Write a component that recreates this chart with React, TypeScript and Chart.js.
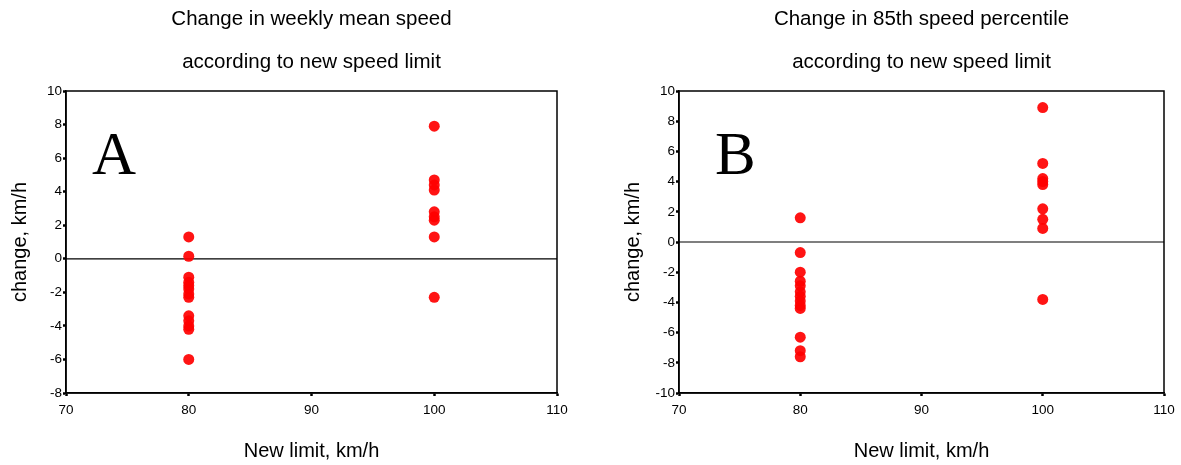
import React, { useEffect, useRef } from 'react';
import { Chart, registerables } from 'chart.js';

Chart.register(...registerables);

// ---- data ----
const speedLimits = [80, 100];
const xTickMin = 70;
const xTickMax = 110;

// Panel A: change in weekly mean speed (km/h)
const meanChangeAt80 = [1.3, 0.15, -1.1, -1.4, -1.6, -1.8, -2.1, -2.3, -3.4, -3.7, -4.0, -4.2, -6.0];
const meanChangeAt100 = [7.9, 4.7, 4.4, 4.1, 2.8, 2.5, 2.3, 1.3, -2.3];

// Panel B: change in 85th speed percentile (km/h)
const p85ChangeAt80 = [1.6, -0.7, -2.0, -2.6, -2.9, -3.3, -3.6, -3.9, -4.2, -4.4, -6.3, -7.2, -7.6];
const p85ChangeAt100 = [8.9, 5.2, 4.2, 4.0, 3.8, 2.2, 1.5, 0.9, -3.8];

const titleA = ['Change in weekly mean speed', 'according to new speed limit'];
const titleB = ['Change in 85th speed percentile', 'according to new speed limit'];
const xAxisTitle = 'New limit, km/h';
const yAxisTitle = 'change, km/h';

const SANS = '"Liberation Sans", Arial, Helvetica, sans-serif';
const SERIF = '"Liberation Serif", "Times New Roman", serif';

type PanelProps = {
  left: number;
  width: number;
  rightPad: number;
  title: string[];
  letter: string;
  letterX: number;
  low: number[];
  high: number[];
  yMin: number;
  yMax: number;
};

function Panel(props: PanelProps) {
  const ref = useRef<HTMLCanvasElement | null>(null);
  useEffect(() => {
    const canvas = ref.current;
    if (!canvas) return;
    const decor = {
      id: 'decor',
      beforeDatasetsDraw(chart: any) {
        const { ctx, chartArea } = chart;
        const y0 = chart.scales.y.getPixelForValue(0);
        ctx.save();
        ctx.strokeStyle = '#000';
        ctx.lineWidth = 1.5;
        ctx.strokeRect(chartArea.left, chartArea.top, chartArea.right - chartArea.left, chartArea.bottom - chartArea.top);
        ctx.lineWidth = 1.2;
        ctx.beginPath();
        ctx.moveTo(chartArea.left, y0);
        ctx.lineTo(chartArea.right, y0);
        ctx.stroke();
        ctx.restore();
      },
      afterDraw(chart: any) {
        const { ctx, chartArea } = chart;
        const cx = (chartArea.left + chartArea.right) / 2;
        ctx.save();
        ctx.fillStyle = '#000';
        ctx.textAlign = 'center';
        ctx.textBaseline = 'middle';
        ctx.font = `20.5px ${SANS}`;
        ctx.fillText(props.title[0], cx, 19);
        ctx.fillText(props.title[1], cx, 62);
        ctx.textAlign = 'left';
        ctx.textBaseline = 'alphabetic';
        ctx.font = `61px ${SERIF}`;
        ctx.fillText(props.letter, props.letterX, 174);
        ctx.restore();
      },
    };
    const pointStyle = {
      backgroundColor: 'rgba(255,0,0,0.92)',
      borderColor: 'rgba(255,0,0,0.92)',
      borderWidth: 0,
      pointRadius: 5.5,
      pointHoverRadius: 5.5,
    };
    const chart = new Chart(canvas, {
      type: 'scatter',
      data: {
        datasets: [
          { data: props.low.map((v) => ({ x: speedLimits[0], y: v })), ...pointStyle },
          { data: props.high.map((v) => ({ x: speedLimits[1], y: v })), ...pointStyle },
        ],
      },
      options: {
        animation: false,
        responsive: false,
        events: [],
        layout: { padding: { top: 91, right: props.rightPad, bottom: 0, left: 0 } },
        plugins: {
          legend: { display: false },
          tooltip: { enabled: false },
          title: { display: false },
        },
        scales: {
          x: {
            type: 'linear',
            min: xTickMin,
            max: xTickMax,
            ticks: {
              stepSize: 10,
              color: '#000',
              font: { family: SANS, size: 13.5 },
              padding: 6,
              maxRotation: 0,
            },
            grid: { drawOnChartArea: false, drawTicks: true, tickLength: 3, tickWidth: 2.5, tickColor: '#000' },
            border: { color: '#000', width: 1.5 },
            title: {
              display: true,
              text: xAxisTitle,
              color: '#000',
              font: { family: SANS, size: 20 },
              padding: { top: 0, bottom: 2 },
            },
            afterFit: (s: any) => {
              s.height = 72;
            },
          },
          y: {
            type: 'linear',
            min: props.yMin,
            max: props.yMax,
            ticks: {
              stepSize: 2,
              color: '#000',
              font: { family: SANS, size: 13.5 },
              padding: 1,
            },
            grid: { drawOnChartArea: false, drawTicks: true, tickLength: 3, tickWidth: 2.5, tickColor: '#000' },
            border: { color: '#000', width: 1.5 },
            title: {
              display: true,
              text: yAxisTitle,
              color: '#000',
              font: { family: SANS, size: 20 },
              padding: { top: 8, bottom: 0 },
            },
            afterFit: (s: any) => {
              s.width = 66;
            },
          },
        },
      } as any,
      plugins: [decor],
    });
    return () => chart.destroy();
  }, []);
  return (
    <canvas
      ref={ref}
      width={props.width}
      height={465}
      style={{ position: 'absolute', left: props.left, top: 0, width: props.width, height: 465 }}
    />
  );
}

export default function App() {
  return (
    <div style={{ position: 'absolute', left: 0, top: 0, width: 1181, height: 465, background: '#fff', overflow: 'hidden' }}>
      <Panel left={0} width={590} rightPad={33} title={titleA} letter="A" letterX={92} low={meanChangeAt80} high={meanChangeAt100} yMin={-8} yMax={10} />
      <Panel left={613} width={568} rightPad={17} title={titleB} letter="B" letterX={102} low={p85ChangeAt80} high={p85ChangeAt100} yMin={-10} yMax={10} />
    </div>
  );
}
